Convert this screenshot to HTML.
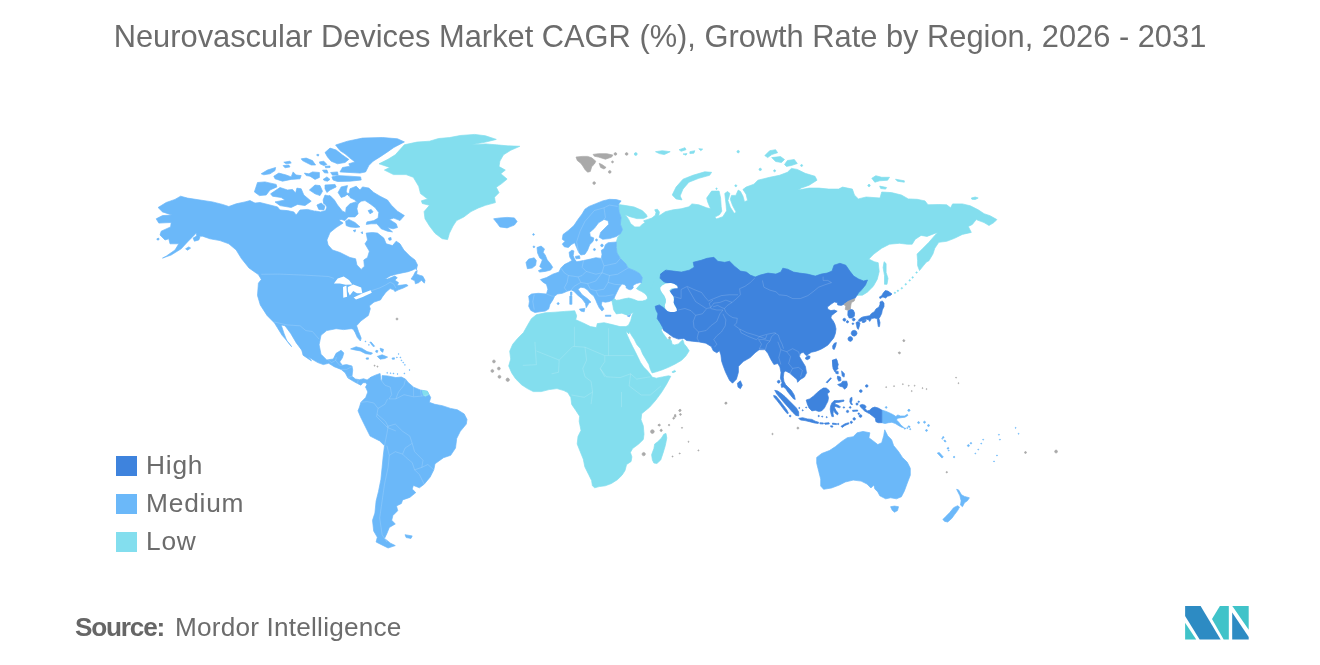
<!DOCTYPE html>
<html lang="en"><head><meta charset="utf-8"><title>Neurovascular Devices Market CAGR (%), Growth Rate by Region, 2026 - 2031</title>
<style>
html,body{margin:0;padding:0;background:#fff;}
body{width:1320px;height:665px;position:relative;overflow:hidden;font-family:"Liberation Sans",Arial,sans-serif;color:#666;}
#title{position:absolute;left:0;top:17px;width:1320px;text-align:center;font-size:30.82px;line-height:40px;color:#6c6c6c;white-space:nowrap;}
#map{position:absolute;left:0;top:0;width:1320px;height:665px;}
.leg{position:absolute;left:116px;width:21px;height:20px;}
.lt{position:absolute;left:146px;font-size:26.3px;line-height:30px;color:#6c6c6c;white-space:nowrap;letter-spacing:0.8px;}
#src{position:absolute;left:75px;top:610px;font-size:26.2px;line-height:34px;color:#666;white-space:nowrap;}
#src2{position:absolute;left:175px;top:610px;font-size:26.2px;line-height:34px;color:#6c6c6c;white-space:nowrap;letter-spacing:0.2px;}
#src b{font-weight:700;color:#666;letter-spacing:-1.2px;}
</style></head><body>
<svg id="map" width="1320" height="665" viewBox="0 0 1320 665">
<path fill="#83deee" stroke="#83deee" stroke-width="0.7" stroke-linejoin="round" d="M379.0,163.8 388.0,159.3 395.3,154.8 404.3,144.8 416.9,142.1 429.5,141.2 438.6,138.5 449.4,137.6 460.2,135.5 474.7,134.4 485.5,135.8 496.3,139.4 485.5,142.1 471.0,144.8 485.5,143.9 496.3,144.8 507.1,145.8 519.8,146.3 510.7,150.3 503.5,154.8 499.9,161.1 499.0,166.5 505.3,170.1 500.8,173.7 507.1,179.1 501.7,183.6 496.3,187.3 499.0,192.7 494.5,197.2 495.4,202.6 485.5,205.3 478.3,208.0 471.0,211.6 463.8,217.0 456.6,220.6 453.0,226.0 449.4,233.3 447.6,239.6 442.2,238.7 435.0,233.3 429.5,226.0 425.0,218.8 424.1,211.6 429.5,205.3 422.3,203.5 421.4,200.8 427.7,199.0 420.5,193.6 418.7,186.3 413.3,177.3 406.1,174.6 393.5,174.6 384.4,170.1 389.8,167.4ZM618.4,204.5 625.9,205.6 634.2,207.0 642.3,210.6 646.4,214.7 647.2,216.7 643.6,218.6 636.9,218.6 630.0,216.7 625.3,214.7 628.7,219.4 630.6,223.6 634.8,226.9 639.7,226.9 642.3,224.2 645.0,222.8 643.6,220.8 647.8,219.4 651.9,218.0 655.3,215.3 656.0,212.5 654.7,209.8 657.4,209.2 659.4,211.9 658.8,216.1 665.3,211.7 673.2,209.8 681.1,208.8 688.9,206.8 691.9,203.9 698.8,204.8 706.7,207.8 710.6,208.8 707.7,201.9 706.7,198.0 711.6,191.1 719.1,191.1 720.6,198.0 721.2,206.8 721.8,211.2 719.5,214.7 714.9,217.1 716.5,219.0 722.8,216.7 726.6,210.8 726.0,203.9 725.2,197.0 724.8,193.4 727.5,191.5 729.9,193.4 728.7,198.0 727.9,200.5 730.3,207.2 734.2,213.3 736.2,212.3 732.7,205.8 730.3,199.3 731.5,195.4 735.8,195.4 738.2,190.1 740.5,191.5 742.9,196.0 744.5,201.7 747.6,200.5 746.1,194.2 742.9,189.5 746.1,187.1 753.9,184.2 757.9,180.2 769.7,177.3 779.5,175.3 787.4,172.3 791.4,168.4 797.3,169.4 805.1,173.3 815.0,176.3 817.0,180.2 809.1,185.2 801.2,188.1 798.3,190.1 809.1,188.1 818.9,188.1 828.8,189.1 838.6,189.1 842.6,187.1 852.4,189.1 854.4,195.0 858.3,198.9 866.2,197.0 880.0,198.0 881.7,192.0 891.5,192.6 901.4,195.0 908.3,198.9 917.1,199.3 925.0,200.9 928.0,204.8 938.8,204.5 946.7,204.8 950.6,207.8 952.6,203.9 962.4,203.9 970.3,205.8 978.2,209.8 984.1,213.7 990.0,215.7 996.9,219.6 993.9,222.6 989.0,225.5 984.1,222.6 976.2,219.6 972.3,224.5 968.3,226.5 971.3,232.4 962.4,234.4 954.5,238.3 946.7,241.3 938.8,242.3 934.8,248.2 932.9,254.1 928.9,260.8 926.4,262.1 923.5,265.6 919.5,270.5 917.6,265.6 917.6,260.7 917.1,254.1 923.0,248.2 928.9,242.3 934.8,235.4 937.8,232.4 934.8,233.4 927.0,236.4 921.1,235.4 915.2,239.3 912.2,244.2 907.3,244.2 899.4,243.3 889.5,244.2 881.7,248.2 873.8,254.1 867.9,260.0 869.3,259.3 874.2,261.7 878.2,262.7 879.2,271.5 877.2,279.4 873.3,286.3 867.3,292.2 862.4,295.2 859.5,295.2 800.0,300.0 700.0,300.0 690.0,330.0 655.0,310.0 647.0,295.8 644.7,293.5 641.7,291.6 638.6,290.1 636.4,288.6 637.9,287.0 639.4,285.2 641.3,283.3 642.3,277.6 639.6,273.5 634.8,270.7 628.0,268.0 625.9,263.9 620.4,258.4 617.0,252.9 616.3,247.5 616.3,242.0 617.7,237.2 620.4,233.8 622.5,229.7 620.4,224.2 621.1,217.4 619.1,211.9 618.4,204.4ZM672.2,195.0 676.1,187.1 683.0,179.2 692.9,175.3 704.7,171.8 711.6,172.3 709.6,175.3 698.8,178.3 688.9,182.2 683.0,189.1 680.1,196.0 682.0,199.9 676.1,198.9ZM655.5,151.7 662.3,150.7 670.2,151.7 664.3,154.6 659.4,153.6ZM679.1,149.7 685.0,147.7 686.0,149.7 681.1,151.3ZM689.9,151.7 694.8,150.7 693.9,153.2 689.9,153.6ZM698.8,148.7 702.7,149.1 700.8,150.7ZM683.0,154.0 687.0,153.6 686.0,155.2ZM764.8,155.6 769.7,150.7 775.6,149.7 777.6,152.7 771.7,154.6 767.7,157.6ZM771.7,157.6 780.5,156.6 784.5,159.5 781.5,162.5 775.6,161.5ZM784.5,164.5 787.4,160.5 794.3,159.5 797.3,163.5 791.4,165.5 786.4,166.4ZM637.2,154.0 636.8,155.1 635.8,155.5 634.7,155.1 634.3,154.0 634.7,153.0 635.8,152.6 636.8,153.0ZM739.4,151.7 739.1,152.5 738.2,152.9 737.3,152.5 736.9,151.7 737.3,150.8 738.2,150.4 739.1,150.8ZM761.5,169.4 761.1,170.3 760.2,170.6 759.4,170.3 759.0,169.4 759.4,168.5 760.2,168.2 761.1,168.5ZM775.6,170.8 775.3,171.5 774.6,171.8 773.9,171.5 773.6,170.8 773.9,170.1 774.6,169.8 775.3,170.1ZM802.6,165.5 802.3,166.2 801.6,166.4 800.9,166.2 800.6,165.5 800.9,164.8 801.6,164.5 802.3,164.8ZM736.8,185.7 736.5,186.4 735.8,186.7 735.1,186.4 734.8,185.7 735.1,185.0 735.8,184.8 736.5,185.0ZM870.1,185.5 869.9,186.2 869.2,186.5 868.5,186.2 868.2,185.5 868.5,184.8 869.2,184.6 869.9,184.8ZM717.3,188.7 717.0,189.2 716.5,189.4 716.0,189.2 715.8,188.7 716.0,188.2 716.5,188.0 717.0,188.2ZM871.8,178.3 875.8,175.7 881.7,177.3 889.5,177.3 887.6,180.2 879.7,180.8 874.8,182.2ZM895.5,179.2 904.3,180.8 904.3,182.2 897.4,181.2ZM879.7,186.1 886.6,187.5 885.6,189.1 880.7,188.5ZM869.8,185.5 869.6,186.2 868.9,186.5 868.2,186.2 867.9,185.5 868.2,184.8 868.9,184.6 869.6,184.8ZM971.3,198.0 975.2,197.0 978.2,198.0 975.2,199.5 971.9,199.3ZM884.1,261.7 886.1,263.6 886.1,272.5 888.0,278.4 887.0,284.3 884.5,284.3 884.5,275.5 883.1,267.6ZM917.3,272.5 917.1,273.0 916.6,273.2 916.1,273.0 915.8,272.5 916.1,272.0 916.6,271.8 917.1,272.0ZM913.4,277.4 913.2,277.9 912.6,278.2 912.1,277.9 911.9,277.4 912.1,276.9 912.6,276.7 913.2,276.9ZM910.4,280.4 910.2,280.9 909.7,281.1 909.2,280.9 909.0,280.4 909.2,279.9 909.7,279.6 910.2,279.9ZM906.5,284.3 906.3,284.8 905.8,285.1 905.2,284.8 905.0,284.3 905.2,283.8 905.8,283.6 906.3,283.8ZM902.6,288.3 902.3,288.8 901.8,289.0 901.3,288.8 901.1,288.3 901.3,287.7 901.8,287.5 902.3,287.7ZM898.6,290.8 898.4,291.3 897.9,291.6 897.4,291.3 897.1,290.8 897.4,290.3 897.9,290.1 898.4,290.3ZM895.7,292.8 895.4,293.3 894.9,293.5 894.4,293.3 894.2,292.8 894.4,292.3 894.9,292.0 895.4,292.3ZM660.0,270.0 690.0,285.0 690.0,320.0 662.1,328.5 661.3,330.1 662.8,332.9 665.2,336.3 667.7,339.6 669.8,338.6 671.4,341.0 672.1,344.2 674.7,345.0 678.4,343.9 681.1,341.3 682.8,339.7 684.2,343.9 686.8,347.1 689.2,350.8 685.8,356.1 681.6,360.3 675.3,363.9 668.9,367.1 662.6,369.7 656.3,371.8 652.1,372.9 650.5,369.7 648.9,364.5 645.8,359.2 642.6,353.9 640.5,348.7 636.8,344.5 634.2,339.2 631.6,335.5 630.0,332.4 628.7,324.8 630.7,320.7 632.1,315.2 633.5,312.5 627.3,315.2 621.8,313.2 616.3,313.9 613.6,309.7 612.9,305.6 612.2,302.2 612.1,301.8 611.4,300.3 612.9,299.2 614.4,298.8 616.3,300.3 619.7,299.9 624.2,298.8 628.8,298.0 633.3,299.2 637.9,301.1 642.4,301.1 646.2,299.9 647.7,298.0 647.0,295.8ZM536.3,314.8 545.2,312.8 555.0,312.2 564.8,311.4 574.7,310.8 576.7,315.8 575.7,319.7 582.6,322.7 590.5,326.6 596.4,327.6 597.3,323.6 604.2,322.7 612.1,324.6 620.0,326.6 625.9,326.6 629.8,324.6 630.2,329.5 628.9,333.9 625.8,330.8 627.4,335.5 630.0,341.3 632.6,346.6 635.3,351.8 637.9,357.1 640.5,362.4 643.7,367.1 647.4,370.8 650.5,374.5 652.1,377.1 656.3,378.2 662.6,376.9 668.4,375.8 670.8,376.3 666.3,384.7 661.4,392.6 655.5,400.5 649.5,407.3 641.7,413.7 641.0,419.7 643.3,425.8 644.0,434.2 643.3,439.5 638.7,444.0 632.6,448.6 630.4,452.4 631.9,456.9 631.1,461.5 626.6,464.5 625.0,470.6 622.0,475.2 617.4,479.7 611.4,483.5 605.3,485.8 599.2,486.6 594.7,487.8 592.4,485.8 591.6,480.5 588.6,474.4 584.8,466.8 583.3,459.2 580.2,451.6 577.2,444.0 578.0,436.4 581.0,430.4 579.2,421.3 579.6,416.2 575.7,410.3 571.7,404.4 570.8,397.5 567.8,392.6 563.9,390.6 557.0,388.6 549.1,389.6 541.2,391.6 533.3,391.6 527.4,388.6 521.5,384.7 515.6,378.8 511.7,372.9 508.7,366.0 510.7,359.1 509.7,351.2 512.7,344.3 517.6,338.4 523.5,332.5 527.4,325.6 531.4,318.7ZM652.4,460.0 651.6,454.7 653.9,448.6 654.7,444.0 657.7,441.8 661.5,438.0 663.8,434.2 666.0,433.4 666.8,438.0 665.3,445.6 663.0,453.2 660.7,460.0 656.9,463.5 653.9,463.0ZM671.9,372.0 674.6,370.4 675.9,371.4 673.1,372.7Z"/>
<path fill="#6bb8f9" stroke="#6bb8f9" stroke-width="0.7" stroke-linejoin="round" d="M335.6,145.0 347.5,141.2 362.5,138.1 382.5,137.5 397.5,138.8 404.4,141.9 393.8,147.5 387.5,151.9 380.0,156.9 373.1,161.2 368.8,165.6 365.6,171.9 360.0,173.1 350.0,172.5 340.0,171.9 342.5,167.5 350.0,166.2 348.8,163.8 355.0,161.9 350.0,158.1 345.0,153.8 340.0,150.6ZM325.0,152.5 330.0,148.1 336.2,150.0 342.5,155.0 348.8,159.4 345.0,162.5 337.5,163.8 331.2,161.2 327.5,156.9ZM331.9,176.9 337.5,175.6 350.0,176.2 360.6,176.9 361.2,180.0 350.0,181.2 337.5,181.5 333.1,180.0ZM319.4,161.9 323.8,161.2 326.9,164.4 323.8,165.6 320.0,163.8ZM325.0,166.2 330.0,166.0 330.0,167.5 325.6,167.8ZM322.5,170.2 326.9,170.0 328.1,173.1 324.4,172.8ZM330.6,172.5 337.5,171.9 338.1,175.0 332.5,175.2ZM301.2,158.8 306.2,158.1 312.5,160.6 315.6,165.0 311.2,165.0 306.2,162.5 302.5,160.6ZM283.8,162.2 290.0,161.2 291.2,163.1 286.2,163.8ZM283.1,165.6 288.8,165.0 290.0,166.9 285.0,167.8ZM316.9,154.4 318.8,154.4 318.5,156.0 316.9,155.6ZM261.2,173.8 267.5,170.0 275.6,167.5 275.0,170.6 270.0,173.8 263.8,174.8ZM273.8,176.2 278.8,173.1 286.2,175.0 291.2,176.9 293.1,171.9 296.2,175.0 301.2,175.6 300.0,178.8 291.2,179.4 282.5,181.2 275.0,178.8ZM304.4,173.1 308.8,173.8 312.5,171.9 319.4,172.5 319.4,177.5 315.0,179.4 310.0,176.2 306.2,175.6ZM323.1,179.4 326.9,176.9 330.0,179.4 327.5,181.2 324.4,180.6ZM254.4,191.9 257.5,182.5 265.0,181.9 276.2,184.4 276.9,186.9 270.0,190.0 266.2,195.0 259.4,195.6ZM270.6,193.8 280.0,187.5 287.5,190.0 292.5,189.4 295.6,193.1 296.9,188.1 301.2,188.8 303.8,195.0 311.2,201.2 305.0,205.6 297.5,204.4 291.2,207.5 280.0,205.6 275.0,201.9 285.0,200.0 281.2,197.5 272.5,196.2ZM309.4,190.0 315.0,185.0 320.0,185.6 322.5,191.2 320.0,195.6 315.0,193.8ZM325.0,185.0 335.0,184.4 336.2,186.9 330.0,190.0 326.9,192.5 325.0,188.8ZM323.1,200.0 325.0,195.0 330.0,196.2 332.5,202.5 327.5,205.0 323.8,203.8ZM316.9,205.0 321.2,203.1 325.0,206.2 323.8,210.0 318.8,209.4ZM338.1,192.5 341.2,186.9 347.5,185.6 346.2,191.2 348.8,196.2 350.0,188.8 356.2,186.2 360.0,190.0 362.5,186.9 368.8,188.1 373.8,192.5 380.0,196.2 387.5,200.0 391.2,205.0 397.5,211.2 404.4,215.6 400.0,220.6 393.8,218.1 389.4,219.4 396.2,223.8 397.5,227.5 393.1,228.8 387.5,227.5 392.5,231.9 387.5,231.2 381.2,228.8 376.9,223.8 371.2,223.8 366.2,224.4 366.9,221.9 373.8,220.6 378.1,218.1 378.8,212.5 375.0,207.5 370.0,203.8 365.0,200.6 361.2,201.2 358.1,203.8 355.0,200.0 350.0,197.5 348.8,193.1 345.0,196.2 341.2,197.5 338.1,192.5ZM345.6,221.2 348.8,219.4 355.0,222.5 360.0,226.9 356.2,227.5 350.0,226.9 346.2,225.6ZM353.1,230.6 355.6,229.8 355.0,232.1ZM361.0,232.5 362.5,231.8 362.5,234.0ZM368.1,210.6 371.2,209.4 373.1,211.9 370.0,213.8ZM388.5,238.1 391.0,237.5 391.2,240.0 389.0,240.2ZM158.1,207.5 166.2,202.5 175.0,199.4 180.6,196.2 187.5,198.1 200.0,200.0 212.5,201.9 222.5,204.4 228.8,206.5 236.2,203.8 245.0,201.9 250.0,200.6 255.0,203.1 260.0,202.5 270.0,205.0 277.5,206.9 280.0,210.0 287.5,210.6 293.8,211.9 296.2,215.0 300.0,210.0 307.5,209.4 315.0,211.2 315.0,211.0 320.6,211.9 325.6,210.6 326.9,206.9 323.8,202.5 325.0,197.5 330.0,195.6 334.4,200.0 337.5,205.0 342.5,211.2 345.6,212.5 346.2,207.5 350.0,203.8 355.6,201.9 358.1,203.8 356.9,208.8 358.1,213.8 355.0,216.9 348.1,216.9 345.0,220.6 341.2,219.4 338.8,220.0 343.1,223.1 336.2,227.5 330.0,232.5 326.9,240.0 328.1,245.0 332.5,250.0 340.0,252.5 350.0,257.5 355.6,258.8 356.9,265.0 361.2,269.4 364.4,266.2 363.8,260.0 367.5,257.5 369.4,251.2 365.0,243.8 367.5,240.0 366.2,233.1 372.5,232.5 377.5,233.1 383.8,238.1 386.2,243.8 392.5,245.6 396.2,241.2 400.0,243.8 403.8,250.0 410.0,256.2 415.0,260.0 417.5,265.0 416.2,270.0 416.6,268.1 412.9,269.9 408.1,271.7 402.1,272.9 396.1,274.2 390.1,276.0 385.3,279.0 387.7,279.0 394.9,276.0 397.3,277.8 394.9,280.2 398.5,282.6 397.3,285.6 402.1,285.0 406.3,284.4 408.1,285.6 403.3,288.0 398.5,289.8 394.9,291.6 393.7,289.8 390.1,288.6 385.9,292.2 382.3,297.0 380.5,299.9 374.0,302.1 369.3,305.9 370.3,308.8 368.4,315.4 360.8,321.1 356.6,325.8 358.5,331.5 361.2,338.1 360.4,341.0 357.4,337.6 355.1,332.4 353.2,329.2 351.3,328.7 343.7,329.6 336.1,328.7 326.7,330.6 321.0,335.3 319.1,344.8 321.0,354.2 326.7,359.9 333.3,359.0 336.1,353.3 341.1,350.3 343.8,353.0 342.4,357.8 339.7,361.9 342.4,365.3 346.5,364.6 352.0,366.0 352.7,370.1 352.0,376.3 355.4,379.0 359.5,379.7 363.6,378.7 367.1,380.0 371.2,377.0 367.8,384.5 365.7,387.2 367.3,384.9 365.7,382.7 363.0,382.7 360.9,385.2 357.5,383.5 353.4,381.3 347.9,377.9 345.2,372.8 341.1,369.4 334.2,366.7 328.7,363.3 323.3,364.6 317.8,362.6 309.6,357.8 302.7,352.3 300.0,345.5 311.5,360.9 303.0,355.2 302.0,350.5 296.3,342.9 290.7,333.4 285.0,325.8 281.2,324.9 284.0,333.4 286.9,341.0 291.6,346.7 288.8,342.9 282.1,335.3 277.4,327.7 274.5,323.0 267.0,315.4 260.3,305.0 257.5,295.5 258.4,283.2 261.3,279.4 258.4,274.6 249.0,268.0 241.4,258.5 236.2,250.0 228.8,243.8 220.0,240.6 210.0,238.8 202.5,236.2 196.9,236.2 196.2,233.1 194.4,235.0 187.5,241.9 181.2,248.8 171.2,255.0 162.5,258.1 166.2,256.2 175.0,250.0 178.8,243.8 170.0,243.8 168.8,238.8 165.0,240.0 160.0,235.0 161.2,231.2 170.6,226.9 171.2,222.5 158.8,223.1 156.2,218.8 162.5,215.6 171.9,215.0 162.5,211.9ZM411.1,279.0 413.5,275.4 415.4,271.7 417.2,270.5 416.6,274.2 420.2,275.4 422.6,276.0 425.0,280.2 424.4,283.2 421.4,280.2 419.0,282.6 415.4,283.8 414.8,280.8ZM350.6,348.9 356.1,346.8 361.6,348.2 367.1,351.6 372.5,353.0 371.2,354.4 365.7,353.7 360.2,350.9 354.7,349.9ZM377.3,356.4 382.1,354.8 387.6,357.1 384.9,358.5 380.1,359.2ZM366.0,358.1 368.4,357.8 368.4,359.2 366.4,359.2ZM392.0,358.1 394.4,357.8 394.4,359.2 392.3,359.2ZM380.1,348.2 383.5,349.3 382.8,352.3 380.8,350.9ZM369.8,342.1 371.2,342.1 374.6,346.2 373.2,346.6ZM376.0,350.3 378.0,350.7 377.3,352.6 375.7,352.0ZM371.2,377.0 376.0,374.9 380.1,373.5 380.8,379.7 382.1,380.4 382.1,375.6 387.6,375.9 395.8,377.6 401.3,377.0 405.4,379.0 408.1,382.4 413.6,387.2 420.4,390.0 427.3,391.3 430.7,397.5 429.3,402.3 434.8,404.3 442.3,405.7 450.6,408.4 457.4,409.8 464.2,413.9 467.0,419.4 466.3,424.1 460.3,431.3 456.7,438.5 455.5,448.1 450.7,455.3 443.5,457.7 435.0,463.8 433.8,469.8 430.2,477.0 424.2,484.2 419.4,487.8 413.4,485.4 412.2,489.0 415.8,492.6 409.8,497.4 402.6,499.9 401.4,503.5 396.5,505.9 397.7,510.7 392.9,515.5 391.7,520.3 395.3,523.9 389.3,527.5 386.9,533.5 384.5,538.4 390.5,543.2 395.3,545.6 388.1,548.0 380.9,544.4 376.1,542.0 377.3,537.2 373.7,531.1 372.5,520.3 374.9,513.1 376.1,501.1 378.5,491.4 380.9,479.4 382.1,467.4 383.3,455.3 384.5,445.7 379.7,440.9 370.1,436.1 365.3,426.5 360.5,416.8 358.0,410.8 359.5,407.1 360.9,402.3 365.7,397.5 367.8,392.0 365.7,387.2ZM405.0,534.7 412.2,535.9 411.0,538.4 406.2,537.6ZM493.6,218.8 499.9,217.9 507.1,217.4 514.4,217.9 517.1,221.5 514.4,225.1 507.1,227.9 499.9,226.9 497.2,223.3ZM565.0,241.3 562.3,239.3 563.0,234.5 568.4,230.4 573.9,225.6 578.0,219.4 582.1,214.0 584.9,209.2 589.0,206.4 595.8,203.7 602.7,200.9 609.5,199.3 616.3,199.6 621.1,200.9 618.4,204.4 619.1,211.9 621.1,217.4 620.4,224.2 622.5,229.7 620.4,233.8 616.3,236.5 609.5,238.6 602.7,239.3 599.2,237.2 600.6,232.4 604.0,229.0 608.8,224.2 608.1,220.8 604.0,219.4 598.5,222.8 594.4,228.3 589.7,232.4 590.3,236.5 593.8,237.9 593.1,241.3 589.7,244.7 587.6,250.2 584.9,254.3 580.8,255.0 578.7,252.3 576.6,247.5 574.6,242.7 571.2,244.7 568.4,247.5 564.3,246.8 562.3,244.1ZM537.0,247.5 541.1,246.1 544.5,248.9 543.1,252.3 545.2,255.0 547.2,259.8 550.6,263.9 552.7,267.3 550.6,270.1 545.2,271.4 539.7,272.1 538.3,270.8 542.4,268.7 539.7,266.6 541.1,263.2 542.4,259.8 539.7,257.8 537.6,253.0ZM526.0,262.5 528.7,259.1 534.2,257.8 536.3,260.5 535.6,265.3 532.2,268.0 527.4,268.7ZM534.4,234.5 534.1,235.1 533.5,235.3 532.9,235.1 532.7,234.5 532.9,233.9 533.5,233.6 534.1,233.9ZM534.8,246.8 534.5,247.4 533.9,247.7 533.3,247.4 533.1,246.8 533.3,246.2 533.9,245.9 534.5,246.2ZM575.3,256.4 579.4,255.7 580.1,258.4 576.0,258.8ZM597.5,240.0 597.2,240.7 596.5,241.0 595.8,240.7 595.5,240.0 595.8,239.2 596.5,238.9 597.2,239.2ZM603.3,245.4 602.9,246.4 602.0,246.8 601.0,246.4 600.6,245.4 601.0,244.5 602.0,244.1 602.9,244.5ZM595.5,249.5 595.2,250.3 594.4,250.6 593.7,250.3 593.4,249.5 593.7,248.8 594.4,248.5 595.2,248.8ZM540.4,279.6 546.5,277.6 552.7,274.2 558.9,272.1 560.9,268.0 564.3,264.6 568.4,262.5 571.9,260.5 569.8,257.1 569.1,252.3 571.9,250.2 573.9,250.9 573.2,255.7 574.6,259.1 576.6,261.8 583.5,260.5 590.3,259.1 595.8,257.7 601.3,258.4 602.0,254.3 601.3,250.2 604.0,248.8 605.4,244.7 608.1,242.7 616.3,242.0 616.3,247.5 617.0,252.9 620.4,258.4 625.9,263.9 628.0,268.0 634.8,270.7 639.6,273.5 642.3,277.6 641.3,283.0 640.2,282.5 636.4,283.6 633.3,285.2 633.0,286.8 633.3,287.8 632.2,288.9 630.3,289.8 628.4,289.3 626.1,287.8 626.1,286.3 624.2,284.4 622.0,284.0 619.3,287.4 617.0,292.0 615.2,295.8 614.0,298.4 612.9,299.5 609.5,301.5 605.4,302.2 602.0,301.5 601.3,305.0 604.0,309.1 602.0,311.1 599.2,307.7 597.2,303.6 595.8,300.2 593.8,296.1 590.3,293.3 587.6,289.9 584.2,287.8 580.8,287.2 578.0,289.2 582.1,294.7 587.6,298.8 591.0,302.2 589.0,302.9 587.6,305.6 586.2,307.7 585.5,303.6 582.1,298.8 578.0,295.4 573.9,291.3 571.2,289.9 567.1,291.3 562.3,293.3 557.5,294.0 554.7,296.1 552.7,300.2 550.0,304.3 548.6,309.1 545.2,311.1 539.7,311.8 534.9,312.5 530.8,310.4 528.7,306.3 529.4,301.5 528.7,296.1 531.5,294.0 538.3,293.3 546.5,294.0 547.9,289.2 546.5,284.4 542.4,281.7ZM579.4,309.1 584.9,308.4 584.2,311.8 580.8,311.1ZM569.8,296.1 571.9,296.1 571.9,304.3 569.8,304.3ZM570.5,292.0 571.9,292.0 571.9,295.4 570.5,295.4ZM605.4,315.2 610.9,315.2 610.9,316.3 605.4,316.3ZM627.3,315.9 630.7,314.5 629.3,316.9ZM559.2,303.6 558.9,304.3 558.2,304.6 557.4,304.3 557.1,303.6 557.4,302.9 558.2,302.6 558.9,302.9ZM881.8,410.1 886.2,411.4 890.2,413.2 893.6,414.9 895.9,416.6 897.6,414.9 900.5,416.0 904.5,416.0 907.3,414.3 907.9,415.4 905.0,417.2 901.0,417.7 897.6,418.3 896.5,420.0 898.8,422.3 901.0,425.2 903.9,427.5 902.2,427.5 898.8,425.7 895.3,423.5 891.9,422.3 888.5,422.7 885.0,423.5 881.8,422.7ZM887.0,407.4 886.8,408.1 886.2,408.3 885.6,408.1 885.3,407.4 885.6,406.8 886.2,406.6 886.8,406.8ZM909.9,410.3 909.7,410.9 909.0,411.2 908.4,410.9 908.2,410.3 908.4,409.7 909.0,409.4 909.7,409.7ZM907.9,428.0 907.7,428.4 907.3,428.6 906.9,428.4 906.8,428.0 906.9,427.6 907.3,427.5 907.7,427.6ZM910.2,426.9 910.0,427.3 909.6,427.5 909.2,427.3 909.0,426.9 909.2,426.5 909.6,426.3 910.0,426.5ZM910.8,429.2 910.6,429.6 910.2,429.7 909.8,429.6 909.6,429.2 909.8,428.8 910.2,428.6 910.6,428.8ZM919.6,422.6 919.3,423.3 918.6,423.6 917.9,423.3 917.6,422.6 917.9,421.9 918.6,421.6 919.3,421.9ZM925.5,422.2 925.2,422.9 924.5,423.2 923.8,422.9 923.6,422.2 923.8,421.5 924.5,421.2 925.2,421.5ZM929.5,425.5 929.2,426.2 928.5,426.5 927.8,426.2 927.5,425.5 927.8,424.8 928.5,424.5 929.2,424.8ZM927.5,430.5 927.2,431.1 926.5,431.4 925.8,431.1 925.5,430.5 925.8,429.8 926.5,429.5 927.2,429.8ZM944.0,437.3 943.8,437.9 943.3,438.1 942.7,437.9 942.5,437.3 942.7,436.8 943.3,436.6 943.8,436.8ZM946.0,441.3 945.7,441.8 945.2,442.0 944.7,441.8 944.5,441.3 944.7,440.8 945.2,440.5 945.7,440.8ZM948.9,448.2 948.7,448.7 948.2,448.9 947.7,448.7 947.4,448.2 947.7,447.7 948.2,447.4 948.7,447.7ZM954.8,457.0 954.6,457.6 954.1,457.8 953.6,457.6 953.3,457.0 953.6,456.5 954.1,456.3 954.6,456.5ZM909.8,410.4 909.5,411.1 908.8,411.3 908.1,411.1 907.8,410.4 908.1,409.7 908.8,409.4 909.5,409.7ZM905.6,428.5 905.4,429.0 904.8,429.2 904.3,429.0 904.1,428.5 904.3,428.0 904.8,427.7 905.4,428.0ZM909.5,426.5 909.3,427.0 908.8,427.3 908.3,427.0 908.0,426.5 908.3,426.0 908.8,425.8 909.3,426.0ZM937.3,453.1 939.3,452.5 943.3,457.0 941.9,458.0ZM816.7,457.4 821.7,453.5 829.5,450.5 835.5,446.6 841.4,441.7 847.3,437.7 853.2,436.7 857.1,432.8 863.0,431.4 869.9,432.8 868.9,437.7 872.9,440.7 877.8,444.6 881.7,442.7 883.7,435.8 884.7,429.8 887.7,435.8 891.6,439.7 893.6,445.6 898.5,451.5 902.4,457.4 907.3,462.3 910.3,468.3 910.3,475.2 907.3,483.0 904.4,490.9 901.4,496.8 896.5,498.8 890.6,497.8 885.7,498.8 879.8,495.8 877.8,491.9 874.8,488.9 873.9,485.0 870.9,488.0 867.0,484.0 861.1,481.1 853.2,480.1 845.3,482.0 839.4,485.0 831.5,488.0 823.6,489.3 820.7,486.0 820.7,479.1 818.7,471.2 816.7,463.3ZM890.6,506.7 894.5,506.1 898.5,506.7 897.5,510.6 894.5,512.2 892.2,510.2ZM956.6,489.3 958.6,489.9 961.5,494.8 964.5,496.4 969.4,497.8 967.4,500.8 964.5,502.7 962.5,506.7 960.5,505.1 961.1,500.8 959.9,495.8ZM942.8,519.5 945.8,516.5 949.7,512.6 953.6,507.7 957.6,505.7 959.5,507.1 957.6,510.6 954.6,514.5 951.7,518.5 947.7,522.0 944.8,521.4ZM969.4,445.6 969.1,446.3 968.4,446.6 967.7,446.3 967.4,445.6 967.7,444.9 968.4,444.6 969.1,444.9ZM971.7,443.2 971.5,443.8 971.0,444.0 970.4,443.8 970.2,443.2 970.4,442.7 971.0,442.5 971.5,442.7ZM942.7,438.7 942.6,439.1 942.2,439.2 941.9,439.1 941.7,438.7 941.9,438.4 942.2,438.2 942.6,438.4ZM944.9,440.7 944.7,441.0 944.4,441.2 944.0,441.0 943.9,440.7 944.0,440.3 944.4,440.2 944.7,440.3ZM948.2,448.6 948.1,448.9 947.7,449.1 947.4,448.9 947.2,448.6 947.4,448.2 947.7,448.1 948.1,448.2ZM949.2,450.5 949.1,450.9 948.7,451.0 948.4,450.9 948.2,450.5 948.4,450.2 948.7,450.0 949.1,450.2ZM983.7,439.7 983.5,440.0 983.2,440.2 982.8,440.0 982.7,439.7 982.8,439.3 983.2,439.2 983.5,439.3ZM981.7,443.6 981.6,444.0 981.2,444.1 980.9,444.0 980.7,443.6 980.9,443.3 981.2,443.1 981.6,443.3ZM978.7,449.5 978.6,449.9 978.3,450.0 977.9,449.9 977.8,449.5 977.9,449.2 978.3,449.1 978.6,449.2ZM975.8,453.5 975.6,453.8 975.3,454.0 975.0,453.8 974.8,453.5 975.0,453.1 975.3,453.0 975.6,453.1ZM999.4,434.8 999.3,435.1 998.9,435.3 998.6,435.1 998.4,434.8 998.6,434.4 998.9,434.3 999.3,434.4ZM1000.4,439.7 1000.3,440.0 999.9,440.2 999.6,440.0 999.4,439.7 999.6,439.3 999.9,439.2 1000.3,439.3ZM997.5,455.5 997.3,455.8 997.0,455.9 996.6,455.8 996.5,455.5 996.6,455.1 997.0,455.0 997.3,455.1ZM994.5,461.4 994.4,461.7 994.0,461.9 993.7,461.7 993.5,461.4 993.7,461.0 994.0,460.9 994.4,461.0ZM1016.2,427.9 1016.0,428.2 1015.7,428.4 1015.3,428.2 1015.2,427.9 1015.3,427.5 1015.7,427.4 1016.0,427.5ZM1019.1,433.8 1019.0,434.1 1018.6,434.3 1018.3,434.1 1018.1,433.8 1018.3,433.4 1018.6,433.3 1019.0,433.4ZM193.1,238.1 197.5,235.6 200.0,236.9 198.8,240.0 194.4,241.2ZM185.6,248.8 188.8,246.9 190.6,248.1 187.5,250.2ZM156.9,238.8 158.8,238.1 159.0,239.8 157.2,240.0ZM399.0,354.0 398.9,354.3 398.6,354.4 398.3,354.3 398.2,354.0 398.3,353.7 398.6,353.6 398.9,353.7ZM397.3,357.4 397.2,357.7 396.9,357.9 396.6,357.7 396.5,357.4 396.6,357.1 396.9,357.0 397.2,357.1ZM400.8,357.4 400.6,357.7 400.3,357.9 400.0,357.7 399.9,357.4 400.0,357.1 400.3,357.0 400.6,357.1ZM401.9,360.3 401.8,360.6 401.5,360.7 401.2,360.6 401.0,360.3 401.2,360.0 401.5,359.9 401.8,360.0ZM403.6,362.6 403.5,362.9 403.2,363.0 402.9,362.9 402.8,362.6 402.9,362.3 403.2,362.2 403.5,362.3ZM405.3,364.9 405.2,365.2 404.9,365.3 404.6,365.2 404.5,364.9 404.6,364.6 404.9,364.4 405.2,364.6ZM409.9,370.0 409.8,370.3 409.5,370.4 409.2,370.3 409.0,370.0 409.2,369.7 409.5,369.6 409.8,369.7ZM404.8,373.4 404.6,373.7 404.3,373.9 404.0,373.7 403.9,373.4 404.0,373.1 404.3,373.0 404.6,373.1ZM397.9,374.0 397.8,374.3 397.5,374.4 397.2,374.3 397.0,374.0 397.2,373.7 397.5,373.6 397.8,373.7ZM393.9,373.4 393.8,373.7 393.5,373.9 393.2,373.7 393.0,373.4 393.2,373.1 393.5,373.0 393.8,373.1ZM391.0,373.2 390.9,373.5 390.6,373.6 390.3,373.5 390.2,373.2 390.3,372.9 390.6,372.8 390.9,372.9ZM387.6,372.9 387.5,373.2 387.2,373.3 386.9,373.2 386.7,372.9 386.9,372.6 387.2,372.4 387.5,372.6ZM365.9,341.4 365.8,341.7 365.5,341.9 365.2,341.7 365.0,341.4 365.2,341.1 365.5,341.0 365.8,341.1ZM369.3,344.9 369.2,345.2 368.9,345.3 368.6,345.2 368.5,344.9 368.6,344.6 368.9,344.4 369.2,344.6Z"/>
<path fill="#83deee" stroke="#83deee" stroke-width="0.7" stroke-linejoin="round" d="M422.2,390.4 427.3,391.3 428.9,394.5 425.2,396.4 423.2,394.7Z"/>
<path fill="#3e83dd" stroke="#3e83dd" stroke-width="0.7" stroke-linejoin="round" d="M660.7,274.1 666.6,270.2 673.5,271.1 681.4,272.1 689.2,270.2 694.2,267.2 693.2,262.3 701.1,260.3 707.0,258.3 713.9,257.3 717.8,261.3 724.7,262.3 729.6,261.3 734.5,266.2 740.5,271.1 746.4,272.1 750.3,275.1 755.2,277.0 760.1,275.1 768.0,273.1 775.9,274.1 780.8,272.1 782.8,268.2 787.7,269.2 793.6,272.1 799.5,273.1 807.4,274.1 815.3,276.1 821.2,274.1 827.1,273.1 832.0,271.1 834.0,265.2 839.9,263.3 845.8,265.2 849.8,271.1 853.7,276.1 858.6,279.0 863.6,281.0 867.5,280.0 865.5,284.9 861.6,289.8 858.6,292.8 856.7,295.8 854.9,298.6 852.0,299.7 848.0,301.4 844.0,304.3 841.2,305.4 837.7,304.9 837.2,302.6 834.3,302.0 830.9,304.3 827.4,307.1 828.0,309.4 830.9,310.6 834.3,310.0 837.2,311.2 834.3,313.4 831.4,315.7 830.9,318.0 833.2,320.9 834.9,324.3 836.0,328.9 835.4,333.4 833.7,338.0 830.9,341.4 828.0,344.9 824.6,347.2 820.6,349.4 816.0,351.2 811.4,352.3 808.6,354.0 806.9,355.7 805.1,354.6 803.4,352.3 800.0,353.5 800.5,352.7 799.5,356.6 802.4,361.5 805.4,366.4 806.4,372.3 806.7,372.6 804.4,377.1 800.4,379.4 797.6,382.3 797.0,379.4 793.6,376.6 789.6,373.1 785.6,370.9 783.9,372.6 783.3,377.1 783.9,381.2 785.6,384.6 787.9,386.9 791.3,390.3 794.2,394.9 795.3,399.4 793.6,398.9 790.7,395.4 787.9,392.0 785.6,388.6 783.3,386.9 781.6,387.4 781.0,384.6 782.1,382.9 780.4,378.3 781.0,372.6 779.9,366.9 777.8,363.5 773.9,364.5 770.9,359.5 768.0,353.6 765.0,349.7 759.1,349.7 755.2,352.7 750.2,357.6 743.3,361.5 738.4,366.4 738.4,372.3 736.4,379.2 732.5,383.2 729.5,380.2 725.6,372.3 722.7,364.5 721.6,360.9 720.9,354.9 719.5,350.8 716.8,352.8 713.3,350.8 711.3,346.6 705.8,343.2 699.0,341.9 692.1,341.2 686.6,340.5 683.9,338.4 678.4,339.1 673.0,337.1 667.5,333.0 663.4,330.2 662.7,327.5 660.0,322.7 657.2,318.6 657.9,313.8 655.9,309.7 655.2,306.3 659.3,304.9 663.4,307.6 665.4,309.7 668.9,311.7 674.3,311.7 677.1,310.4 675.7,306.3 673.6,302.8 674.3,297.4 671.6,294.6 670.2,291.2 673.0,289.2 677.8,287.8 677.1,285.1 671.6,283.0 666.8,283.0 663.4,281.6 660.0,278.2 660.6,274.1 666.1,270.0ZM848.0,310.6 850.3,309.2 853.2,310.0 854.6,312.9 854.3,316.3 852.0,318.0 849.2,318.0 847.8,315.2ZM882.9,293.4 885.2,290.6 888.0,291.1 892.0,294.0 890.3,295.5 887.5,296.3 885.7,298.0 882.9,296.9 880.0,298.6 879.5,296.9 881.7,295.7ZM880.0,302.0 882.3,300.9 884.0,303.1 884.0,306.6 882.3,310.0 881.7,313.4 880.0,316.9 878.9,318.6 880.0,322.6 879.5,326.6 878.3,326.6 877.7,322.6 877.2,318.6 874.3,318.0 871.5,318.6 869.7,321.4 868.6,319.7 866.3,319.2 863.5,320.3 861.7,320.9 859.4,321.4 858.3,320.3 860.6,318.0 862.9,316.9 866.3,316.3 869.7,315.7 871.5,313.4 874.3,311.7 876.0,308.9 878.9,307.1 880.0,304.3ZM862.3,320.9 865.7,320.0 866.3,321.1 864.0,322.6 862.3,322.4ZM856.0,322.6 858.3,321.4 860.0,323.2 859.4,326.0 858.3,329.4 857.2,328.3 856.6,325.4ZM845.8,319.7 845.4,320.7 844.4,321.2 843.3,320.7 842.9,319.7 843.3,318.7 844.4,318.3 845.4,318.7ZM848.6,321.8 848.3,322.6 847.4,322.9 846.6,322.6 846.3,321.8 846.6,321.0 847.4,320.6 848.3,321.0ZM855.2,319.5 854.7,320.5 853.7,320.9 852.7,320.5 852.3,319.5 852.7,318.5 853.7,318.1 854.7,318.5ZM853.8,323.7 853.5,324.3 852.9,324.6 852.3,324.3 852.1,323.7 852.3,323.1 852.9,322.9 853.5,323.1ZM857.1,333.2 856.2,335.3 854.1,336.2 852.0,335.3 851.1,333.2 852.0,331.1 854.1,330.2 856.2,331.1ZM852.7,338.9 852.0,340.6 850.3,341.4 848.6,340.6 847.9,338.9 848.6,337.2 850.3,336.5 852.0,337.2ZM832.6,346.0 834.3,343.2 836.4,342.6 835.7,346.0 834.3,349.4 832.9,348.9ZM805.7,357.5 808.0,355.7 810.1,356.3 809.7,358.4 807.4,359.7 805.5,358.9ZM737.4,383.2 740.4,380.8 742.3,385.2 740.4,388.7 738.0,387.1ZM774.7,390.3 777.6,390.9 781.0,393.2 785.0,396.6 789.0,400.6 793.0,404.6 796.4,408.0 798.7,412.0 798.7,416.0 795.9,415.4 792.4,412.0 788.4,407.4 784.4,402.9 780.4,398.3 777.0,394.3ZM773.6,395.4 775.9,396.0 779.3,400.0 783.3,405.2 786.7,409.7 788.4,413.2 787.3,413.7 784.4,410.3 781.0,405.7 777.0,400.6 774.1,397.2ZM798.7,418.3 802.7,417.7 807.3,418.9 811.9,419.4 815.3,421.2 818.7,422.3 818.2,423.5 814.2,422.9 809.6,421.7 805.0,420.6 800.4,420.0ZM819.9,422.7 823.3,422.9 823.3,424.0 819.9,423.8ZM824.4,423.1 829.0,422.7 829.3,424.0 825.0,424.3ZM832.5,423.1 836.5,423.6 836.5,424.6 832.5,424.3ZM830.7,425.7 833.0,426.1 832.5,427.2 830.7,426.9ZM841.0,426.3 845.0,423.8 848.5,422.7 849.0,423.8 845.0,425.4 842.2,427.5ZM806.2,400.0 809.6,398.9 813.0,396.6 816.4,393.2 819.9,390.3 823.3,388.0 826.2,388.0 829.0,390.3 829.6,392.0 827.3,393.7 828.5,397.7 827.9,401.2 826.2,404.6 824.4,408.0 821.6,410.9 818.7,411.4 815.3,410.3 811.9,410.9 809.0,408.0 807.3,404.0ZM830.7,405.7 831.9,402.9 834.2,400.6 838.2,400.6 843.9,400.0 843.9,401.2 839.3,402.3 835.9,402.5 834.7,404.0 838.2,405.2 840.5,406.9 839.3,407.8 835.9,406.6 834.2,406.9 835.9,410.3 838.2,413.2 837.6,414.9 835.3,413.2 833.4,410.3 833.0,413.7 833.6,416.6 831.9,416.6 830.7,412.6 830.2,409.2ZM850.2,398.3 851.9,397.2 852.1,400.0 851.3,402.3 852.5,404.6 851.0,404.4 849.8,401.7ZM852.5,410.3 857.6,410.0 857.8,411.1 852.8,411.4ZM858.2,404.0 857.8,404.8 857.0,405.2 856.2,404.8 855.9,404.0 856.2,403.2 857.0,402.9 857.8,403.2ZM859.5,401.7 859.3,402.2 858.7,402.4 858.2,402.2 858.0,401.7 858.2,401.2 858.7,401.0 859.3,401.2ZM851.0,407.4 850.8,408.1 850.2,408.3 849.6,408.1 849.3,407.4 849.6,406.8 850.2,406.6 850.8,406.8ZM848.7,411.4 848.4,412.3 847.5,412.6 846.7,412.3 846.4,411.4 846.7,410.6 847.5,410.3 848.4,410.6ZM861.9,416.0 861.5,417.0 860.5,417.4 859.5,417.0 859.0,416.0 859.5,415.0 860.5,414.6 861.5,415.0ZM859.6,413.7 859.4,414.3 858.7,414.6 858.1,414.3 857.9,413.7 858.1,413.1 858.7,412.9 859.4,413.1ZM855.5,418.9 855.1,419.8 854.2,420.2 853.3,419.8 852.9,418.9 853.3,418.0 854.2,417.6 855.1,418.0ZM852.5,422.3 852.1,423.1 851.3,423.5 850.5,423.1 850.2,422.3 850.5,421.5 851.3,421.2 852.1,421.5ZM844.6,407.4 844.4,408.0 843.9,408.2 843.4,408.0 843.2,407.4 843.4,406.9 843.9,406.7 844.4,406.9ZM780.1,381.7 779.7,382.7 778.7,383.2 777.7,382.7 777.3,381.7 777.7,380.7 778.7,380.3 779.7,380.7ZM791.0,416.0 790.8,416.6 790.2,416.9 789.5,416.6 789.3,416.0 789.5,415.4 790.2,415.2 790.8,415.4ZM868.0,386.0 867.7,386.9 866.7,387.2 865.8,386.9 865.5,386.0 865.8,385.0 866.7,384.7 867.7,385.0ZM862.2,391.1 861.8,392.1 860.8,392.5 859.8,392.1 859.4,391.1 859.8,390.1 860.8,389.7 861.8,390.1ZM838.9,424.0 838.7,424.5 838.2,424.7 837.7,424.5 837.5,424.0 837.7,423.5 838.2,423.3 838.7,423.5ZM803.3,410.3 803.1,410.7 802.7,410.9 802.3,410.7 802.2,410.3 802.3,409.9 802.7,409.7 803.1,409.9ZM806.7,407.4 806.6,407.8 806.2,408.0 805.8,407.8 805.6,407.4 805.8,407.0 806.2,406.9 806.6,407.0ZM819.4,416.0 819.2,416.5 818.7,416.7 818.2,416.5 818.0,416.0 818.2,415.5 818.7,415.3 819.2,415.5ZM822.7,416.6 822.6,417.0 822.2,417.2 821.8,417.0 821.6,416.6 821.8,416.2 822.2,416.0 822.6,416.2ZM827.3,417.2 827.1,417.6 826.7,417.7 826.3,417.6 826.2,417.2 826.3,416.8 826.7,416.6 827.1,416.8ZM799.9,408.0 799.7,408.4 799.3,408.6 798.9,408.4 798.7,408.0 798.9,407.6 799.3,407.4 799.7,407.6ZM832.4,360.5 836.3,358.8 838.3,364.5 836.9,369.0 834.9,371.8 833.0,368.4ZM832.5,360.0 837.0,360.0 836.8,365.7 838.2,368.6 836.5,369.7 834.5,369.1 833.0,366.3ZM835.3,370.9 838.2,371.4 838.2,373.9 835.9,373.5ZM841.6,370.9 844.5,373.7 844.1,377.1 842.2,376.0ZM837.6,376.0 840.5,377.1 841.0,380.6 838.7,381.2 837.3,378.3ZM837.6,384.6 841.0,383.4 842.7,381.2 846.7,381.2 847.5,384.6 846.7,387.4 844.5,389.2 842.7,386.9 839.9,386.3ZM826.2,382.3 830.7,377.7 831.3,378.5 827.3,382.9ZM859.9,405.2 862.2,404.4 865.0,405.2 866.2,406.9 865.0,408.6 867.3,410.9 869.6,410.3 871.9,408.0 874.8,407.1 878.2,408.0 881.8,410.1 881.8,422.7 878.2,422.7 875.9,421.7 875.3,418.3 872.5,416.0 869.6,413.7 867.3,412.6 864.5,410.9 862.2,408.6 860.5,407.1Z"/>
<path fill="#a9a9a9" stroke="#a9a9a9" stroke-width="0.7" stroke-linejoin="round" d="M576.0,157.1 582.1,156.4 587.6,156.4 591.7,157.8 595.8,161.2 594.4,164.0 591.7,166.7 590.3,171.5 587.6,172.2 584.9,169.4 582.8,166.0 580.8,163.3 577.3,160.5ZM593.1,154.4 598.5,153.7 606.8,153.7 612.9,155.1 611.6,157.1 605.4,159.2 598.5,157.1 594.4,156.2ZM599.2,163.3 602.0,164.6 606.1,167.4 604.0,169.0 600.6,167.4ZM616.8,154.0 616.4,154.9 615.4,155.3 614.4,154.9 614.0,154.0 614.4,153.0 615.4,152.6 616.4,153.0ZM611.1,171.9 610.7,172.9 609.8,173.3 608.8,172.9 608.4,171.9 608.8,170.9 609.8,170.5 610.7,170.9ZM595.5,183.1 595.1,184.1 594.2,184.5 593.2,184.1 592.8,183.1 593.2,182.1 594.2,181.7 595.1,182.1ZM613.5,161.9 613.2,162.6 612.5,162.9 611.8,162.6 611.5,161.9 611.8,161.2 612.5,160.9 613.2,161.2ZM628.0,154.0 627.6,154.9 626.6,155.3 625.6,154.9 625.2,154.0 625.6,153.0 626.6,152.6 627.6,153.0ZM654.3,431.6 653.7,432.9 652.4,433.5 651.0,432.9 650.5,431.6 651.0,430.2 652.4,429.7 653.7,430.2ZM662.3,430.4 662.0,431.2 661.2,431.5 660.4,431.2 660.0,430.4 660.4,429.6 661.2,429.2 662.0,429.6ZM645.4,454.1 644.9,455.3 643.7,455.8 642.5,455.3 642.0,454.1 642.5,452.9 643.7,452.4 644.9,452.9ZM680.7,410.6 680.4,411.3 679.7,411.6 679.0,411.3 678.8,410.6 679.0,410.0 679.7,409.7 680.4,410.0ZM681.4,414.4 681.1,415.1 680.5,415.4 679.8,415.1 679.5,414.4 679.8,413.8 680.5,413.5 681.1,413.8ZM675.9,415.2 675.7,415.7 675.2,415.9 674.6,415.7 674.4,415.2 674.6,414.6 675.2,414.4 675.7,414.6ZM674.6,418.2 674.3,418.9 673.6,419.2 673.0,418.9 672.7,418.2 673.0,417.6 673.6,417.3 674.3,417.6ZM669.8,425.1 669.6,425.6 669.1,425.8 668.5,425.6 668.3,425.1 668.5,424.5 669.1,424.3 669.6,424.5ZM682.6,427.8 682.4,428.2 682.0,428.4 681.6,428.2 681.4,427.8 681.6,427.4 682.0,427.2 682.4,427.4ZM689.1,441.8 688.9,442.2 688.5,442.3 688.1,442.2 687.9,441.8 688.1,441.4 688.5,441.2 688.9,441.4ZM699.0,450.4 698.8,450.8 698.4,451.0 698.0,450.8 697.8,450.4 698.0,450.0 698.4,449.8 698.8,450.0ZM680.3,453.5 680.1,453.9 679.7,454.0 679.3,453.9 679.1,453.5 679.3,453.1 679.7,452.9 680.1,453.1ZM673.1,456.5 673.0,456.9 672.6,457.1 672.2,456.9 672.0,456.5 672.2,456.1 672.6,455.9 673.0,456.1ZM726.8,403.3 726.6,403.9 726.0,404.1 725.5,403.9 725.3,403.3 725.5,402.8 726.0,402.6 726.6,402.8ZM659.0,425.1 658.9,425.5 658.5,425.6 658.0,425.5 657.9,425.1 658.0,424.7 658.5,424.5 658.9,424.7ZM495.4,361.5 495.0,362.5 493.9,362.9 492.9,362.5 492.5,361.5 492.9,360.4 493.9,360.0 495.0,360.4ZM500.3,368.5 499.9,369.6 498.9,370.0 497.8,369.6 497.4,368.5 497.8,367.5 498.9,367.1 499.9,367.5ZM493.8,370.9 493.4,372.0 492.4,372.4 491.3,372.0 490.9,370.9 491.3,369.9 492.4,369.4 493.4,369.9ZM500.9,376.8 500.5,377.9 499.5,378.3 498.4,377.9 498.0,376.8 498.4,375.8 499.5,375.3 500.5,375.8ZM509.5,379.8 508.9,381.0 507.7,381.5 506.5,381.0 506.0,379.8 506.5,378.6 507.7,378.0 508.9,378.6ZM681.1,410.3 680.8,411.0 680.1,411.3 679.4,411.0 679.1,410.3 679.4,409.6 680.1,409.3 680.8,409.6ZM676.1,416.2 675.8,416.9 675.1,417.2 674.5,416.9 674.2,416.2 674.5,415.5 675.1,415.2 675.8,415.5ZM660.4,425.1 660.1,425.8 659.4,426.1 658.7,425.8 658.4,425.1 658.7,424.4 659.4,424.1 660.1,424.4ZM727.0,403.0 726.7,403.7 726.0,404.0 725.3,403.7 725.0,403.0 725.3,402.3 726.0,402.0 726.7,402.3ZM670.6,337.8 670.3,338.5 669.6,338.8 668.9,338.5 668.6,337.8 668.9,337.1 669.6,336.8 670.3,337.1ZM844.0,304.3 848.0,301.4 852.0,299.7 854.9,298.6 854.3,300.9 851.4,302.6 850.9,304.9 850.3,308.9 848.0,310.3 845.2,309.4 845.7,306.6ZM904.8,340.6 904.5,341.4 903.8,341.6 903.1,341.4 902.8,340.6 903.1,339.9 903.8,339.6 904.5,339.9ZM900.5,352.9 900.2,353.6 899.5,353.9 898.8,353.6 898.5,352.9 898.8,352.2 899.5,351.9 900.2,352.2ZM886.6,387.1 886.5,387.5 886.1,387.6 885.8,387.5 885.6,387.1 885.8,386.8 886.1,386.6 886.5,386.8ZM894.5,386.1 894.4,386.5 894.0,386.6 893.7,386.5 893.5,386.1 893.7,385.8 894.0,385.6 894.4,385.8ZM903.4,384.2 903.2,384.5 902.9,384.7 902.5,384.5 902.4,384.2 902.5,383.8 902.9,383.7 903.2,383.8ZM909.3,385.7 909.1,386.1 908.8,386.2 908.4,386.1 908.3,385.7 908.4,385.4 908.8,385.2 909.1,385.4ZM915.2,385.7 915.0,386.1 914.7,386.2 914.3,386.1 914.2,385.7 914.3,385.4 914.7,385.2 915.0,385.4ZM923.1,388.1 922.9,388.5 922.6,388.6 922.2,388.5 922.1,388.1 922.2,387.8 922.6,387.6 922.9,387.8ZM927.0,389.1 926.9,389.4 926.5,389.6 926.2,389.4 926.0,389.1 926.2,388.7 926.5,388.6 926.9,388.7ZM912.2,391.1 912.1,391.4 911.7,391.6 911.4,391.4 911.2,391.1 911.4,390.7 911.7,390.6 912.1,390.7ZM956.5,377.7 956.4,378.0 956.1,378.2 955.7,378.0 955.6,377.7 955.7,377.3 956.1,377.2 956.4,377.3ZM958.9,383.2 958.8,383.5 958.4,383.7 958.1,383.5 957.9,383.2 958.1,382.8 958.4,382.7 958.8,382.8ZM904.4,340.8 904.2,341.2 903.9,341.3 903.5,341.2 903.4,340.8 903.5,340.5 903.9,340.3 904.2,340.5ZM899.4,352.7 899.3,353.0 898.9,353.1 898.6,353.0 898.4,352.7 898.6,352.3 898.9,352.2 899.3,352.3ZM726.3,403.3 726.1,403.8 725.6,404.0 725.1,403.8 724.9,403.3 725.1,402.7 725.6,402.5 726.1,402.7ZM798.9,428.1 798.6,428.8 797.9,429.1 797.2,428.8 796.9,428.1 797.2,427.4 797.9,427.1 798.6,427.4ZM773.2,434.0 773.0,434.5 772.5,434.7 772.0,434.5 771.7,434.0 772.0,433.5 772.5,433.3 773.0,433.5ZM1026.5,452.5 1026.2,453.2 1025.5,453.5 1024.8,453.2 1024.5,452.5 1024.8,451.8 1025.5,451.5 1026.2,451.8ZM1057.5,451.5 1057.1,452.6 1056.1,453.0 1055.0,452.6 1054.6,451.5 1055.0,450.5 1056.1,450.0 1057.1,450.5ZM947.5,472.2 947.3,472.7 946.7,472.9 946.2,472.7 946.0,472.2 946.2,471.7 946.7,471.5 947.3,471.7ZM396.2,318.2 397.8,318.2 397.8,319.8 396.2,319.8ZM375.2,365.7 375.0,366.1 374.6,366.2 374.2,366.1 374.0,365.7 374.2,365.3 374.6,365.1 375.0,365.3ZM378.0,366.6 377.9,367.0 377.5,367.2 377.1,367.0 376.9,366.6 377.1,366.2 377.5,366.0 377.9,366.2Z"/>
<path fill="#ffffff" stroke="#ffffff" stroke-width="0" stroke-linejoin="round" d="M333.9,283.4 337.7,278.4 343.7,276.5 349.0,279.9 352.3,284.5 345.6,284.7 339.9,283.5ZM343.0,287.0 346.4,285.6 347.1,296.8 343.3,297.8ZM347.9,287.0 353.2,284.5 361.2,287.5 362.3,293.2 357.0,293.2 353.2,291.1 349.8,295.5 347.9,291.3ZM353.6,297.4 362.7,293.2 370.6,290.2 371.8,292.8 362.7,297.0 356.0,299.5ZM660.2,287.8 662.1,285.5 665.9,283.6 670.5,283.0 674.2,284.0 677.3,286.3 677.7,288.2 674.6,288.2 671.6,288.6 669.3,290.5 670.8,293.1 673.1,296.1 673.9,299.5 673.5,302.6 674.6,305.6 676.5,308.6 676.9,310.9 674.2,312.0 670.5,312.0 667.4,310.9 665.2,308.3 664.8,305.2 665.9,302.2 665.9,299.2 664.4,295.8 662.1,292.7 660.6,290.1Z"/>
<path fill="none" stroke="#ffffff" stroke-opacity="0.26" stroke-width="0.6" stroke-linejoin="round" d="M754.8,278.1 750.2,282.6 744.9,286.4 739.6,288.7 740.4,294.8 736.6,298.6 732.0,302.4 727.4,305.4 724.4,308.5 725.9,312.3 729.0,315.3 732.8,317.6 737.3,318.3 736.6,322.9 734.3,325.2 739.6,329.0 747.2,332.8 754.8,335.0 759.3,336.6 766.9,334.3 774.5,332.8 778.3,335.0 779.8,339.6 782.1,344.2 783.6,348.7M762.4,280.4 763.9,287.2 770.0,290.2 776.0,291.8 779.1,294.8 786.7,295.6 792.7,298.6 800.3,298.6 807.9,295.6 814.0,291.0 818.6,287.2 824.6,284.9 831.5,282.6 827.7,280.4 823.1,280.4 823.1,276.6M672.8,296.3 681.1,298.6 681.1,289.5 687.2,286.4 694.0,289.5 701.6,292.5 706.2,298.6 708.5,300.9 713.8,298.6 721.4,295.6 729.0,294.8 738.1,294.8M687.2,287.2 695.6,301.6 706.2,308.5 710.7,307.7 709.2,303.2 713.0,300.1M678.1,310.0 684.9,308.5 691.0,310.7 695.6,315.3 702.4,313.8 706.2,309.2M695.6,315.3 693.3,321.4 694.0,327.4 698.6,332.0 706.2,330.5 710.7,325.9 716.8,321.4 719.9,313.8 722.9,310.0 716.8,310.0 710.7,308.5M698.6,332.0 697.1,338.1 699.4,342.6M722.9,313.8 725.9,319.9 725.2,325.9 721.4,332.0 716.8,335.8 713.8,339.6 716.8,344.2 714.5,347.2M739.6,329.0 741.1,332.8 748.7,336.6 756.3,339.6 759.3,337.3M759.3,336.6 765.4,338.8 766.9,335.0M758.6,339.6 761.6,344.2 759.3,348.7 765.4,349.5 766.9,344.2 770.0,341.1 763.9,339.6 758.6,339.6M770.0,341.1 771.5,336.6 776.0,332.8M710.7,307.7 713.8,303.2 719.9,302.4 725.9,300.1 732.0,302.4M713.0,306.9 717.6,305.4 722.1,307.7 724.4,308.5M777.8,341.8 780.8,349.7 778.8,357.6 780.8,364.5M780.8,349.7 786.7,351.7 790.6,356.6 788.6,363.5 792.6,368.4 789.6,374.3M786.7,351.7 792.6,348.7 798.5,351.7 800.5,357.6 804.4,362.5M792.6,368.4 798.5,367.4 802.4,370.4 800.5,377.3M261.3,274.3 279.3,274.1 305.8,275.2 328.6,276.5 333.9,278.4M371.2,290.8 379.7,287.9 385.4,285.1 390.2,282.2 393.9,284.1 395.8,287.9M274.5,322.0 286.9,324.9 300.1,325.8 305.8,330.6 312.4,331.5 319.1,339.1M327.4,359.2 331.5,362.6 335.6,360.5 336.3,357.1M335.6,360.5 339.7,365.3 342.4,365.3M341.1,369.4 346.5,369.4 352.0,366.7M347.9,377.6 352.7,375.9M357.5,383.5 358.2,379.7M380.8,379.7 384.9,385.2 390.3,387.2 391.7,394.7 389.0,398.9 395.8,398.9 404.0,394.7 413.6,396.8 421.8,396.1 428.7,394.7M405.4,379.7 404.0,385.2 398.5,392.0 395.8,398.9M413.6,387.2 413.6,396.4M420.4,390.0 421.4,396.1M360.9,402.3 367.1,401.6 373.9,403.0 378.0,408.4 384.9,404.3 387.6,398.9M378.0,408.4 376.6,416.6 382.1,422.1 387.6,427.6 395.8,430.9M377.3,414.4 385.7,421.7 388.1,426.5 386.9,433.7 384.5,445.7M386.9,426.5 395.3,424.1 402.6,431.3 409.8,436.1 412.2,443.3 405.0,448.1 402.6,454.1 395.3,451.7 389.3,455.3 386.9,445.7M412.2,443.3 414.6,451.7 423.0,460.2 421.8,467.4 414.6,469.8 412.2,462.6 406.2,457.7 402.6,454.1M389.3,455.3 388.1,467.4 384.5,484.2 382.1,501.1 379.7,517.9 382.1,534.7 386.9,542.0M414.6,469.8 419.4,474.6 424.2,484.2M421.8,467.4 427.8,464.5 433.8,469.8M608.6,328.2 608.6,355.6 633.6,355.6M608.6,355.6 604.8,355.6 604.8,361.6 600.2,368.5 604.8,376.8M574.4,326.7 574.4,346.4 585.0,347.2 604.8,355.6M534.9,341.9 536.4,364.7 522.8,365.4M536.4,351.0 559.2,360.1 572.9,346.4 574.4,346.4M559.2,360.1 558.5,372.3 551.6,373.8M585.0,347.2 586.6,360.1 582.8,368.5 585.0,376.8 591.1,381.4M600.2,368.5 606.3,376.8 620.0,377.6 630.6,373.8 636.7,379.1 650.3,376.8M630.6,373.8 629.1,385.9 641.2,395.0 650.3,395.0 661.0,385.9M591.1,381.4 592.6,392.0 591.1,404.2M571.4,395.0 584.3,397.3 592.6,392.0M621.5,392.0 621.5,407.2M560.9,268.0 564.3,272.8 568.4,275.5 567.1,282.4 564.3,287.8 567.1,291.3M546.5,294.0 552.0,296.1 554.7,296.1M534.2,294.7 532.8,301.5 534.2,309.7M583.5,260.5 582.1,267.3 586.2,271.4 582.1,275.5 578.0,276.9 568.4,275.5M601.3,258.4 604.0,265.9 602.0,272.8 595.8,274.2 586.2,271.4M604.0,265.9 616.3,263.2 620.4,258.4M602.0,272.8 609.5,275.5 617.7,274.2 628.0,268.0M609.5,275.5 608.1,282.4 615.0,284.4 621.7,284.8M578.0,276.9 580.8,282.4 587.6,283.7 595.8,281.0 602.0,272.8M587.6,283.7 590.3,289.2 595.8,290.6 604.0,289.2 608.1,282.4M595.8,290.6 598.5,296.1 605.4,296.1 613.6,294.7M571.2,289.9 573.9,286.5 580.8,282.4M578.7,252.3 576.6,242.0 580.1,231.1 584.9,221.5 594.4,210.5 604.0,207.8 609.5,205.1 617.7,206.4M604.0,207.8 605.4,217.4 604.0,219.4"/>
<g id="logo">
<polygon fill="#2d8bc3" points="1185.1,606 1200.6,606 1220.6,639.6 1199.6,639.6 1185.1,615.9"/>
<polygon fill="#40c3c9" points="1185.1,622.7 1196.2,639.6 1185.1,639.6"/>
<polygon fill="#40c3c9" points="1219.9,606 1228.8,606 1228.8,639.6 1223.7,639.6 1212,619"/>
<polygon fill="#2d8bc3" points="1232.2,612.5 1248.7,636.9 1248.7,639.6 1232.2,639.6"/>
<polygon fill="#40c3c9" points="1232.2,606 1248.7,606 1248.7,629.8 1233,606.9"/>
</g>
</svg>
<div id="title">Neurovascular Devices Market CAGR (%), Growth Rate by Region, 2026 - 2031</div>
<div class="leg" style="top:456px;background:#3e83dd"></div><div class="lt" style="top:450px">High</div>
<div class="leg" style="top:494px;background:#6bb8f9"></div><div class="lt" style="top:488px">Medium</div>
<div class="leg" style="top:532px;background:#83deee"></div><div class="lt" style="top:526px">Low</div>
<div id="src"><b>Source:</b></div><div id="src2">Mordor Intelligence</div>
</body></html>
